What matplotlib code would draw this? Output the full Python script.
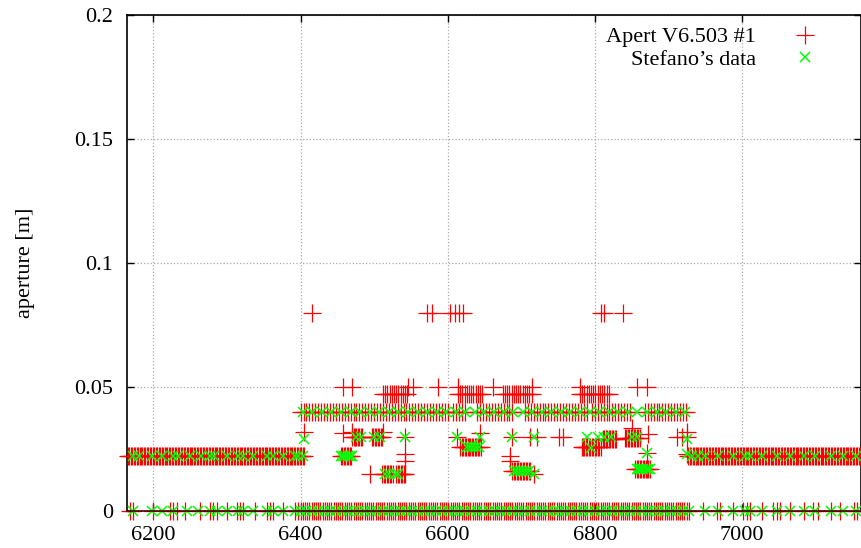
import numpy as np
import matplotlib
matplotlib.use("Agg")
from matplotlib import pyplot as plt

plt.rcParams['font.family'] = ['Liberation Serif', 'DejaVu Serif']
plt.rcParams['font.size'] = 16

# dense runs of elements: (s_start, s_end, aperture, spacing)
red_runs = [
    (6165, 6406, 0.022, 2), (6927, 7163, 0.022, 2),
    (6400, 6930, 0.0, 3),
    (6400, 6603, 0.04, 4), (6607, 6626, 0.04, 4), (6640, 6689, 0.04, 4),
    (6705, 6790, 0.04, 4), (6796, 6848, 0.04, 4), (6868, 6925, 0.04, 4),
    (6512, 6546, 0.047, 3), (6614, 6648, 0.047, 3), (6675, 6716, 0.047, 3),
    (6780, 6820, 0.047, 3),
    (6470, 6485, 0.03, 2), (6497, 6512, 0.03, 2),
    (6455, 6470, 0.022, 2),
    (6511, 6525, 0.015, 2), (6530, 6542, 0.015, 2),
    (6617, 6645, 0.026, 2), (6688, 6712, 0.016, 2),
    (6782, 6808, 0.026, 2), (6811, 6830, 0.029, 2), (6841, 6862, 0.0295, 2),
    (6855, 6875, 0.017, 2),
]

# isolated red points
red_x = [6168, 6172, 6200, 6223, 6227, 6232, 6243, 6263, 6277, 6281, 6287,
         6300, 6314, 6318, 6322, 6338, 6355, 6359, 6363, 6376, 6393, 6397,
         6947, 6966, 6970, 6988, 7002, 7007, 7011, 7028, 7043, 7048, 7052,
         7066, 7084, 7097, 7103, 7121, 7134, 7152, 7157,
         6416, 6572, 6579, 6603, 6610, 6616, 6621, 6808, 6812, 6839,
         6458, 6470, 6546, 6553, 6587, 6614, 6662, 6715, 6780, 6858, 6871,
         6405, 6458, 6470, 6512, 6542, 6542, 6542, 6495,
         6613, 6644, 6688, 6685, 6685, 6717, 6712, 6721, 6757, 6752,
         6851, 6873, 6871, 6912, 6918, 6925, 6925, 6925]
red_y = [0.0] * 41 + \
        [0.08] * 10 + \
        [0.05] * 11 + \
        [0.032, 0.0315, 0.032, 0.032, 0.03, 0.023, 0.020, 0.015,
         0.03, 0.0316, 0.03, 0.022, 0.020, 0.015, 0.03, 0.03, 0.03, 0.03,
         0.0335, 0.031, 0.0235, 0.03, 0.03, 0.032, 0.03, 0.023]

green_runs = [
    (6400, 6930, 0.0, 8),
    (6403, 6925, 0.04, 13),
    (6455, 6472, 0.022, 3),
    (6626, 6644, 0.026, 4),
    (6690, 6712, 0.016, 4),
    (6857, 6875, 0.017, 3),
]

green_x = [6172, 6198, 6211, 6227, 6246, 6261, 6277, 6287, 6300, 6315, 6322,
           6336, 6355, 6363, 6376, 6393,
           6950, 6967, 6988, 7004, 7011, 7028, 7048, 7066, 7084, 7100, 7121,
           7137, 7155,
           6172, 6180, 6198, 6211, 6227, 6233, 6250, 6265, 6277, 6282, 6300,
           6315, 6322, 6336, 6355, 6363, 6376, 6393, 6397, 6403,
           6932, 6940, 6950, 6967, 6988, 7004, 7011, 7028, 7048, 7066, 7084,
           7100, 7121, 7137, 7155,
           6405, 6475, 6482, 6500, 6508, 6542, 6515, 6520, 6528, 6533,
           6613, 6644, 6688, 6717, 6717, 6789, 6795, 6805, 6812, 6822,
           6851, 6857, 6871, 6925, 6925]
green_y = [0.0] * 29 + [0.022] * 35 + \
          [0.029, 0.03, 0.03, 0.03, 0.03, 0.03, 0.015, 0.015, 0.015, 0.015,
           0.03, 0.03, 0.03, 0.03, 0.015, 0.03, 0.0255, 0.03, 0.03, 0.03,
           0.03, 0.03, 0.0235, 0.029, 0.023]


def expand(runs, xs, ys):
    ax_, ay_ = list(xs), list(ys)
    for s0, s1, a, ds in runs:
        s = np.arange(s0, s1 + 0.01, ds)
        ax_ += list(s)
        ay_ += [a] * len(s)
    return ax_, ay_


rx, ry = expand(red_runs, red_x, red_y)
gx, gy = expand(green_runs, green_x, green_y)

fig = plt.figure(figsize=(8.61, 5.48), dpi=100)
ax = fig.add_axes([0.1475, 0.0675, 0.8525, 0.905])

ax.plot(rx, ry, linestyle='none', marker='+', markersize=12.5,
        markeredgewidth=0.9, color='#ff0000', label='Apert V6.503 #1',
        clip_on=False, zorder=3)
ax.plot(gx, gy, linestyle='none', marker='x', markersize=7.5,
        markeredgewidth=1.1, color='#00ff00', label="Stefano\u2019s data",
        clip_on=False, zorder=4)

ax.set_xlim(6164, 7162)
ax.set_ylim(0, 0.2)
ax.set_xticks([6200, 6400, 6600, 6800, 7000])
ax.set_yticks([0, 0.05, 0.1, 0.15, 0.2])
ax.set_yticklabels(['0', '0.05', '0.1', '0.15', '0.2'])
ax.tick_params(direction='in', length=5, width=1, top=True, right=True)
ax.tick_params(axis='x', pad=11)
ax.tick_params(axis='y', pad=10)
ax.grid(True, color='#aaaaaa', linestyle=':', linewidth=0.9)
ax.set_ylabel('aperture [m]')
ax.yaxis.set_label_coords(-0.125, 0.5)
for sp in ax.spines.values():
    sp.set_linewidth(1.2)
ax.spines['bottom'].set_color('#4a0000')
ax.spines['bottom'].set_zorder(5)

ax.legend(loc='upper right', bbox_to_anchor=(0.961, 0.951),
          bbox_transform=fig.transFigure, frameon=False, markerfirst=False,
          borderpad=0, borderaxespad=0, labelspacing=0.1,
          handlelength=2, handletextpad=1.2)

fig.savefig('out.png', dpi=100)
